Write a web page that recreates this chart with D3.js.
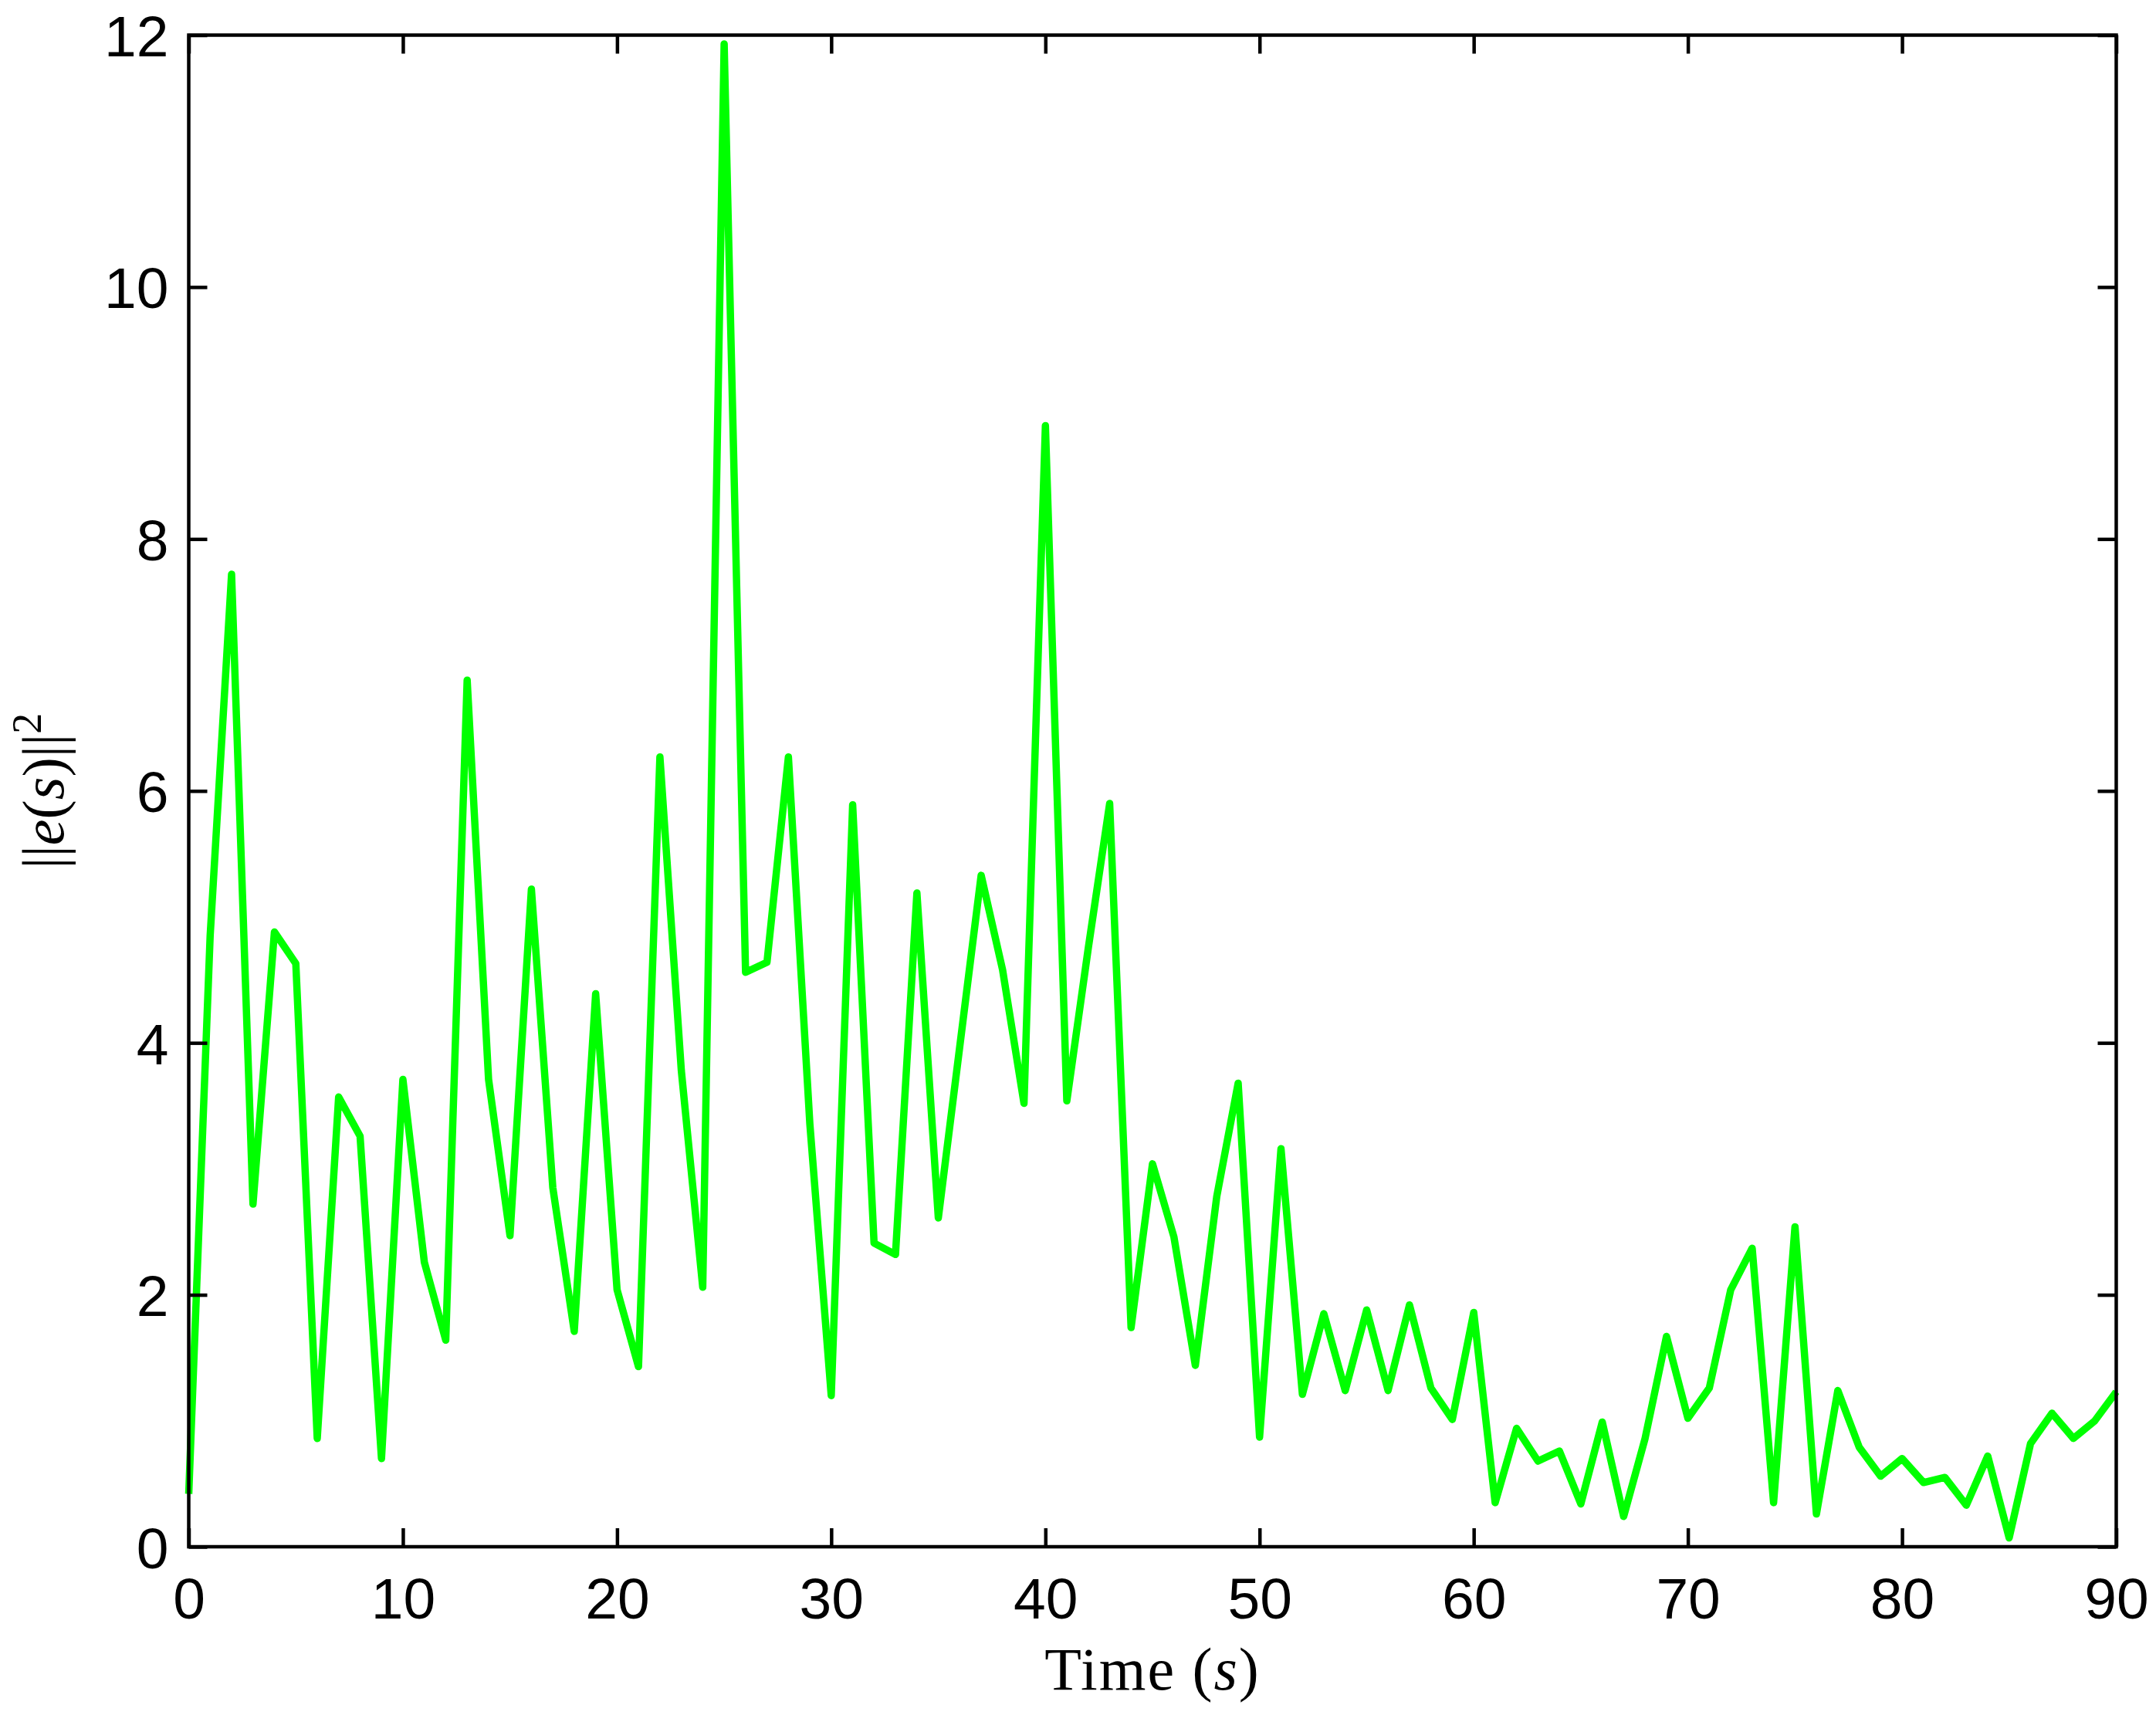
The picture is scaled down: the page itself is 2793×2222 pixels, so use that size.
<!DOCTYPE html>
<html>
<head>
<meta charset="utf-8">
<script src="https://cdn.jsdelivr.net/npm/d3@7"></script>
<style>
  html, body { margin: 0; padding: 0; background: #ffffff; }
  svg { display: block; }
</style>
</head>
<body>
<svg id="chart" width="2793" height="2222"></svg>
<script>
// ---- data ----
const times = d3.range(0, 91); // seconds 0..90
const errorNorm = [
  0.42, 4.85, 7.72, 2.72, 4.88, 4.63, 0.86, 3.57, 3.26, 0.70,
  3.71, 2.26, 1.64, 6.88, 3.71, 2.47, 5.22, 2.85, 1.71, 4.39,
  2.04, 1.43, 6.27, 3.78, 2.06, 11.93, 4.56, 4.64, 6.27, 3.36,
  1.20, 5.89, 2.41, 2.32, 5.19, 2.61, 3.97, 5.33, 4.58, 3.52,
  8.90, 3.54, 4.75, 5.90, 1.74, 3.04, 2.46, 1.44, 2.78, 3.68,
  0.87, 3.16, 1.21, 1.85, 1.24, 1.88, 1.24, 1.92, 1.26, 1.01,
  1.86, 0.35, 0.94, 0.68, 0.76, 0.34, 0.99, 0.24, 0.86, 1.67,
  1.02, 1.26, 2.04, 2.37, 0.35, 2.54, 0.26, 1.24, 0.79, 0.56,
  0.70, 0.51, 0.55, 0.33, 0.72, 0.07, 0.82, 1.06, 0.86, 1.00,
  1.23
];
const xTicks = [0, 10, 20, 30, 40, 50, 60, 70, 80, 90];
const yTicks = [0, 2, 4, 6, 8, 10, 12];
const xDomain = [0, 90];
const yDomain = [0, 12];

// ---- layout ----
const L = 244.5, R = 2741.5, T = 45.5, B = 2004;
const svg = d3.select("#chart");
svg.append("rect").attr("width", 2793).attr("height", 2222).attr("fill", "#ffffff");

const x = d3.scaleLinear().domain(xDomain).range([L, R]);
const y = d3.scaleLinear().domain(yDomain).range([B, T]);

const tickLen = 24;
const axisStroke = 4.5;
const tickFont = "'Liberation Sans', Arial, Helvetica, sans-serif";

// data line
const line = d3.line().x((d, i) => x(times[i])).y(d => y(d));
svg.append("path")
  .datum(errorNorm)
  .attr("d", line)
  .attr("fill", "none")
  .attr("stroke", "#00ff00")
  .attr("stroke-width", 9.5)
  .attr("stroke-linejoin", "round")
  .attr("stroke-linecap", "butt");

function styleAxis(g) {
  g.select(".domain").remove();
  g.selectAll(".tick line").attr("stroke", "#000").attr("stroke-width", axisStroke);
}

// bottom
const gB = svg.append("g").attr("transform", `translate(0,${B})`)
  .call(d3.axisBottom(x).tickValues(xTicks).tickSizeInner(-tickLen).tickSizeOuter(0).tickFormat(d3.format("d")));
styleAxis(gB);
gB.selectAll(".tick text")
  .attr("y", 93).attr("dy", null)
  .attr("font-family", tickFont).attr("font-size", 75).attr("fill", "#000");

// top
const gT = svg.append("g").attr("transform", `translate(0,${T})`)
  .call(d3.axisTop(x).tickValues(xTicks).tickSizeInner(-tickLen).tickSizeOuter(0).tickFormat(""));
styleAxis(gT);

// left
const gL = svg.append("g").attr("transform", `translate(${L},0)`)
  .call(d3.axisLeft(y).tickValues(yTicks).tickSizeInner(-tickLen).tickSizeOuter(0).tickFormat(d3.format("d")));
styleAxis(gL);
gL.selectAll(".tick text")
  .attr("x", -26).attr("dy", "0.36em")
  .attr("font-family", tickFont).attr("font-size", 75).attr("fill", "#000");

// right
const gR = svg.append("g").attr("transform", `translate(${R},0)`)
  .call(d3.axisRight(y).tickValues(yTicks).tickSizeInner(-tickLen).tickSizeOuter(0).tickFormat(""));
styleAxis(gR);

// frame
svg.append("rect")
  .attr("x", L).attr("y", T).attr("width", R - L).attr("height", B - T)
  .attr("fill", "none").attr("stroke", "#000").attr("stroke-width", axisStroke);

// x label
const serif = "'Liberation Serif', 'Times New Roman', serif";
const xl = svg.append("text")
  .attr("x", (L + R) / 2).attr("y", 2189)
  .attr("text-anchor", "middle")
  .attr("font-family", serif).attr("font-size", 78).attr("letter-spacing", 2).attr("fill", "#000");
xl.append("tspan").text("Time (");
xl.append("tspan").attr("font-style", "italic").text("s");
xl.append("tspan").text(")");

// y label
const yl = svg.append("text")
  .attr("transform", `translate(82,${(T + B) / 2}) rotate(-90)`)
  .attr("text-anchor", "middle")
  .attr("font-family", serif).attr("font-size", 76).attr("fill", "#000");
yl.append("tspan").text("||");
yl.append("tspan").attr("font-style", "italic").text("e");
yl.append("tspan").text("(");
yl.append("tspan").attr("font-style", "italic").text("s");
yl.append("tspan").text(")||");
yl.append("tspan").attr("font-size", 54).attr("dy", -29).text("2");
</script>
</body>
</html>
